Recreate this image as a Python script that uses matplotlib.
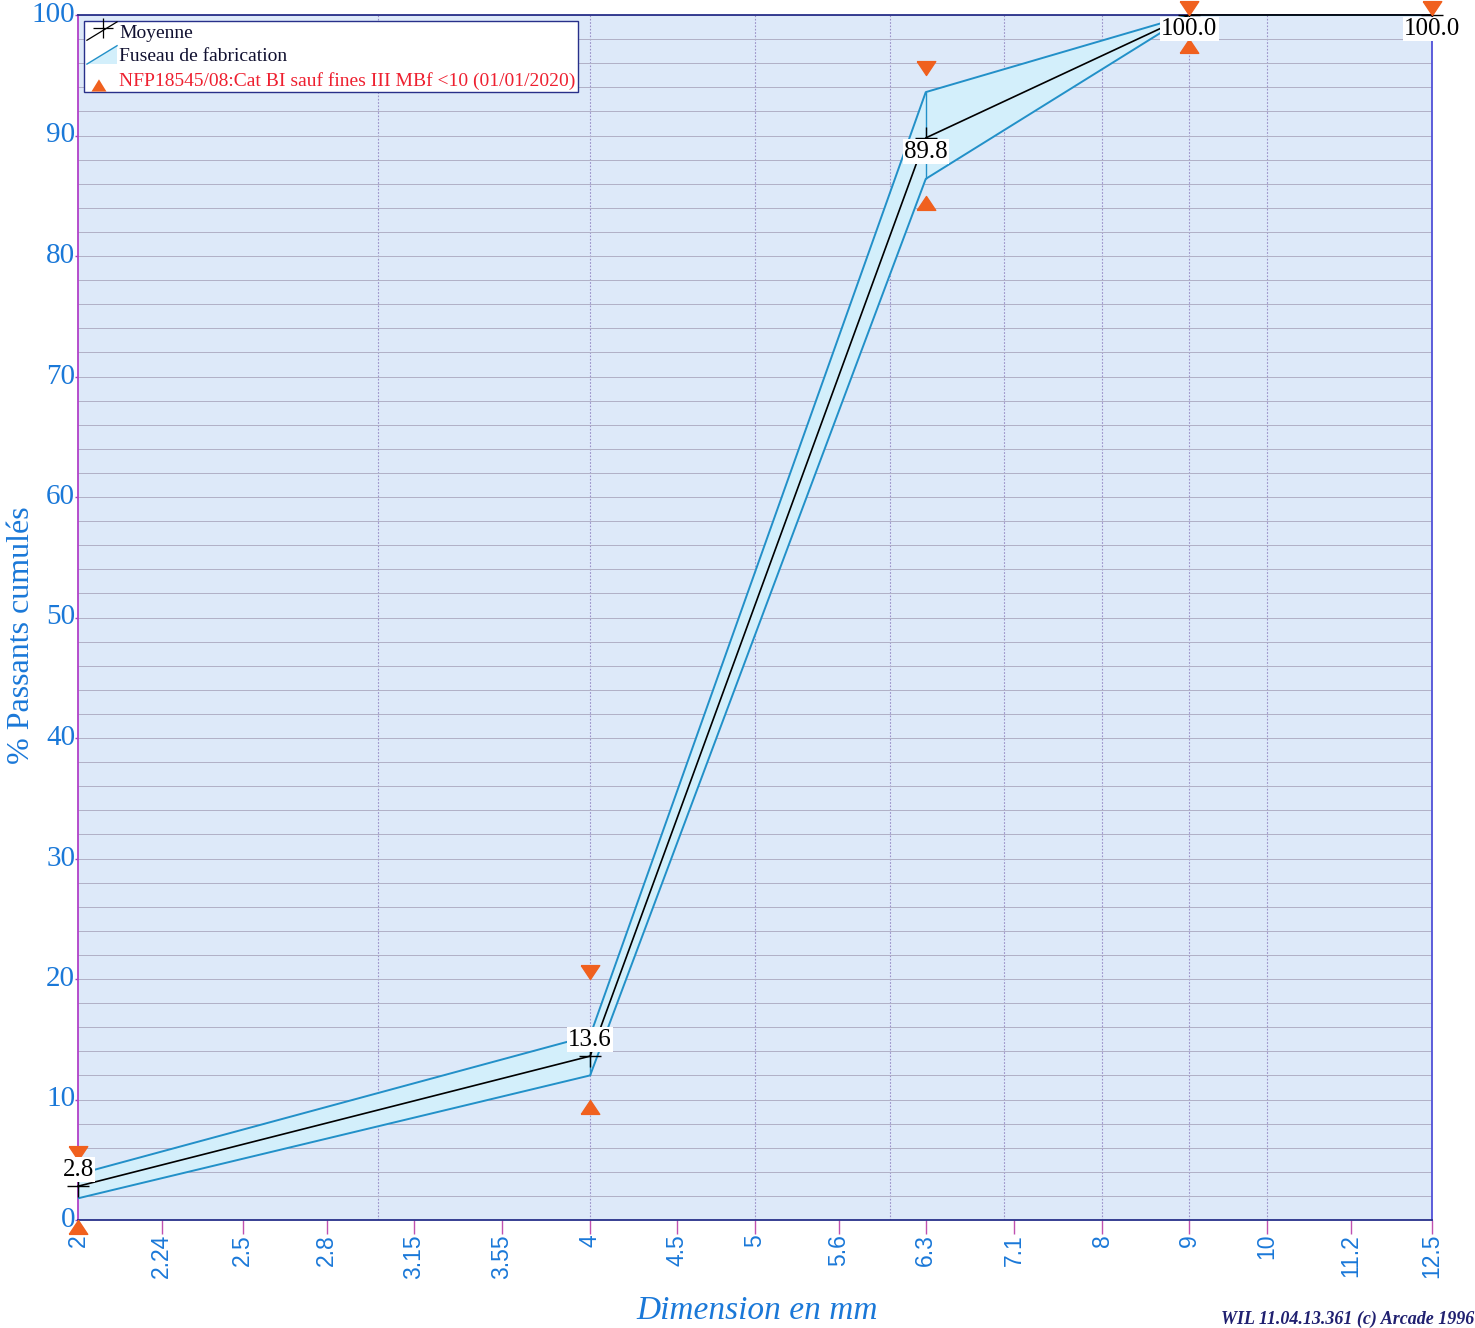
import matplotlib
matplotlib.use("Agg")
import matplotlib.pyplot as plt
import numpy as np
from matplotlib.ticker import FixedLocator, NullFormatter, MultipleLocator, FixedFormatter
from matplotlib.legend_handler import HandlerBase
from matplotlib.lines import Line2D
from matplotlib.patches import Polygon
from matplotlib.markers import MarkerStyle
from matplotlib.path import Path

# ---------------- data ----------------
tick_values = [2, 2.24, 2.5, 2.8, 3.15, 3.55, 4, 4.5, 5, 5.6, 6.3, 7.1, 8, 9, 10, 11.2, 12.5]
tick_labels = ["2", "2.24", "2.5", "2.8", "3.15", "3.55", "4", "4.5", "5", "5.6", "6.3",
               "7.1", "8", "9", "10", "11.2", "12.5"]
grid_x = [3, 4, 5, 6, 7, 8, 9, 10]

sieves = [2, 4, 6.3, 9, 12.5]
mean_pass = [2.8, 13.6, 89.8, 100.0, 100.0]
fuseau_upper = [3.8, 15.3, 93.6, 100.0, 100.0]
fuseau_lower = [1.8, 12.0, 86.4, 100.0, 100.0]
spec_upper = [5, 20, 95, 100, 100]
spec_lower = [0, 10, 85, 98, np.nan]

legend_labels = ["Moyenne", "Fuseau de fabrication",
                 "NFP18545/08:Cat BI sauf fines III MBf <10 (01/01/2020)"]
xlabel = "Dimension en mm"
ylabel = "% Passants cumulés"
footer = "WIL 11.04.13.361 (c) Arcade 1996"

# ---------------- style ----------------
BLUE = "#1a78d8"
BG = "#dde9f9"
FILL = "#d3effb"
EDGE = "#2290c8"
ORANGE = "#f0601e"
RED = "#ee2030"
NAVY = "#28308a"
SERIF = ["Liberation Serif", "DejaVu Serif"]
SANS = ["Liberation Sans", "DejaVu Sans"]

fig = plt.figure(figsize=(14.75, 13.28), dpi=100)
ax = fig.add_axes([78/1475, 1 - 1220/1328, (1432-78)/1475, (1220-15)/1328])
ax.set_facecolor(BG)
ax.set_xscale("log")
ax.set_xlim(2, 12.5)
ax.set_ylim(0, 100)

# grid
ax.xaxis.remove_overlapping_locs = False
ax.xaxis.set_major_locator(FixedLocator(tick_values))
ax.xaxis.set_major_formatter(FixedFormatter(tick_labels))
ax.xaxis.set_minor_locator(FixedLocator(grid_x))
ax.xaxis.set_minor_formatter(NullFormatter())
ax.yaxis.set_major_locator(MultipleLocator(10))
ax.yaxis.set_minor_locator(MultipleLocator(2))
ax.xaxis.grid(True, which="minor", color="#9a90c8", lw=0.8, ls=(0, (1.5, 1.5)))
ax.xaxis.grid(False, which="major")
ax.yaxis.grid(True, which="both", color="#b0b0c6", lw=0.7)
ax.set_axisbelow(True)

ax.tick_params(axis="x", which="major", direction="out", length=10, width=1,
               color="#c050b0", labelcolor=BLUE, labelsize=16.5, pad=0, labelrotation=90)
ax.tick_params(axis="x", which="minor", length=0)
ax.tick_params(axis="y", which="major", direction="out", length=2, width=1,
               color="#a040b0", labelcolor=BLUE, labelsize=21, pad=0)
ax.tick_params(axis="y", which="minor", length=0)
for lab in ax.get_xticklabels():
    lab.set_fontfamily(SANS)
for lab in ax.get_yticklabels():
    lab.set_fontfamily(SERIF)
    lab.set_verticalalignment("center")

ax.spines["left"].set_color("#b040c8")
ax.spines["bottom"].set_color(NAVY)
ax.spines["top"].set_color(NAVY)
ax.spines["right"].set_color("#5050d8")
for s in ax.spines.values():
    s.set_linewidth(1.3)

# fuseau
ax.fill_between(sieves, fuseau_lower, fuseau_upper, color=FILL, zorder=2, lw=0)
ax.plot(sieves, fuseau_upper, color=EDGE, lw=1.4, zorder=3)
ax.plot(sieves, fuseau_lower, color=EDGE, lw=1.4, zorder=3)
ax.vlines(sieves, fuseau_lower, fuseau_upper, color=EDGE, lw=1.0, zorder=3)

# mean
ax.plot(sieves, mean_pass, color="black", lw=1.2, marker="+", markersize=16,
        mew=1.0, zorder=5, clip_on=False)

# spec triangles with tip at the limit
down_tri = MarkerStyle(Path([(-0.5, 0.75), (0.5, 0.75), (0, 0), (-0.5, 0.75)]))
up_tri = MarkerStyle(Path([(-0.5, -0.75), (0.5, -0.75), (0, 0), (-0.5, -0.75)]))
ax.plot(sieves, spec_upper, ls="none", marker=down_tri, markersize=20,
        color=ORANGE, mec=ORANGE, zorder=6, clip_on=False)
ax.plot(sieves, spec_lower, ls="none", marker=up_tri, markersize=20,
        color=ORANGE, mec=ORANGE, zorder=6, clip_on=False)

# value labels
for x, y in zip(sieves, mean_pass):
    if y < 50:
        off, va = 4, "bottom"
    else:
        off, va = -2, "top"
    ax.annotate(f"{y:.1f}", (x, y), xytext=(0, off), textcoords="offset points",
                ha="center", va=va, fontsize=18, family=SERIF, color="black",
                zorder=7, annotation_clip=False,
                bbox=dict(boxstyle="square,pad=0.05", fc="white", ec="none"))

# legend
class HandlerMean(HandlerBase):
    def create_artists(self, legend, orig, xd, yd, w, h, fontsize, trans):
        l = Line2D([xd, xd + w], [yd - 0.2*h, yd + 1.15*h], color="black", lw=0.9,
                   transform=trans)
        m = Line2D([xd + 0.55*w], [yd + 0.7*h], marker="+", markersize=15, mew=0.9,
                   color="black", transform=trans)
        return [l, m]

class HandlerFuseau(HandlerBase):
    def create_artists(self, legend, orig, xd, yd, w, h, fontsize, trans):
        p = Polygon([(xd, yd - 0.2*h), (xd + w, yd - 0.2*h), (xd + w, yd + 1.15*h)],
                    closed=True, fc=FILL, ec="none", transform=trans)
        l = Line2D([xd, xd + w], [yd - 0.2*h, yd + 1.15*h], color=EDGE, lw=1.0,
                   transform=trans)
        return [p, l]

class HandlerSpec(HandlerBase):
    def create_artists(self, legend, orig, xd, yd, w, h, fontsize, trans):
        p = Polygon([(xd + 0.15*w, yd - 0.45*h), (xd + 0.65*w, yd - 0.45*h),
                     (xd + 0.4*w, yd + 0.45*h)], closed=True, fc=ORANGE, ec="none",
                    transform=trans)
        return [p]

hm, hf, hs = type("HM", (), {})(), type("HF", (), {})(), type("HS", (), {})()
leg = ax.legend([hm, hf, hs], legend_labels,
                handler_map={type(hm): HandlerMean(), type(hf): HandlerFuseau(),
                             type(hs): HandlerSpec()},
                loc="upper left", bbox_to_anchor=(6/1354, 1 - 6/1205),
                borderaxespad=0, frameon=True, fancybox=False,
                prop={"family": SERIF, "size": 14.0},
                handlelength=1.55, handletextpad=0.1, labelspacing=0.32,
                borderpad=0.15)
leg.get_frame().set_edgecolor(NAVY)
leg.get_frame().set_linewidth(1.0)
leg.get_frame().set_facecolor("white")
leg.get_frame().set_alpha(1)
leg.set_zorder(8)
txts = leg.get_texts()
txts[0].set_color("#101030")
txts[1].set_color("#101030")
txts[2].set_color(RED)

# axis titles
fig.text(757/1475, 1 - 1311/1328, xlabel, ha="center", va="center", fontsize=24,
         style="italic", family=SERIF, color=BLUE)
fig.text(22/1475, 1 - 635/1328, ylabel, ha="center", va="center", fontsize=23,
         rotation=90, family=SERIF, color=BLUE)
fig.text(0.9995, 0.0, footer, ha="right", va="bottom", fontsize=13,
         style="italic", weight="bold", family=SERIF, color="#202070")

fig.savefig("out.png", dpi=100, facecolor="white")
